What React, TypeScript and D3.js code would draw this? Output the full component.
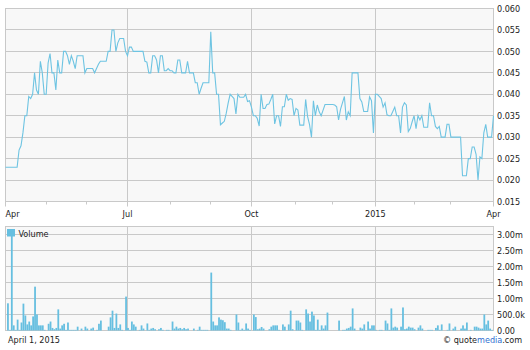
import React from "react";
import * as d3 from "d3";

// Market holidays (no trading) between Apr 1 2014 and Apr 1 2015
const holidays = [
  "2014-04-18", "2014-05-26", "2014-07-04", "2014-09-01", "2014-11-27",
  "2014-12-25", "2015-01-01", "2015-01-19", "2015-02-16",
];

// Daily closing price, one per trading day
const prices = [
  0.023, 0.023, 0.023, 0.023, 0.023, 0.023, 0.023, 0.027, 0.028, 0.031,
  0.035, 0.035, 0.0395, 0.039, 0.040, 0.045, 0.041, 0.040, 0.0477, 0.045,
  0.040, 0.040, 0.0473, 0.0495, 0.045, 0.045, 0.041, 0.048, 0.045, 0.045,
  0.050, 0.050, 0.049, 0.047, 0.049, 0.0477, 0.046, 0.049, 0.049, 0.049,
  0.049, 0.045, 0.046, 0.046, 0.046, 0.046, 0.045, 0.046, 0.047, 0.0477,
  0.0477, 0.0477, 0.0477, 0.050, 0.050, 0.055, 0.055, 0.050, 0.052, 0.053,
  0.053, 0.053, 0.050, 0.049, 0.051, 0.051, 0.050, 0.050, 0.050, 0.050,
  0.050, 0.050, 0.0477, 0.0475, 0.045, 0.045, 0.049, 0.049, 0.048, 0.045,
  0.049, 0.049, 0.0455, 0.0455, 0.046, 0.0455, 0.0455, 0.045, 0.045, 0.048,
  0.048, 0.045, 0.045, 0.045, 0.0477, 0.045, 0.045, 0.045, 0.0427, 0.0427,
  0.040, 0.0414, 0.0427, 0.0427, 0.0427, 0.0427, 0.0546, 0.045, 0.045, 0.040,
  0.040, 0.0329, 0.0333, 0.0337, 0.0356, 0.038, 0.040, 0.0395, 0.039, 0.0354,
  0.040, 0.0393, 0.0393, 0.0393, 0.040, 0.0383, 0.0385, 0.037, 0.035, 0.035,
  0.0344, 0.0326, 0.040, 0.0367, 0.0367, 0.0376, 0.0377, 0.0388, 0.040, 0.0331,
  0.035, 0.035, 0.0325, 0.0371, 0.0371, 0.040, 0.0386, 0.039, 0.0388, 0.035,
  0.0367, 0.0363, 0.0328, 0.0328, 0.0328, 0.0388, 0.0348, 0.0329, 0.030, 0.0385,
  0.035, 0.0375, 0.0359, 0.035, 0.0363, 0.0376, 0.0376, 0.0376, 0.0376, 0.0376,
  0.0375, 0.0371, 0.034, 0.0365, 0.038, 0.0395, 0.034, 0.0359, 0.035, 0.045,
  0.045, 0.045, 0.045, 0.039, 0.0382, 0.036, 0.036, 0.036, 0.0394, 0.0385,
  0.031, 0.040, 0.040, 0.0395, 0.039, 0.037, 0.038, 0.0352, 0.035, 0.035,
  0.036, 0.037, 0.035, 0.035, 0.031, 0.037, 0.038, 0.0375, 0.0313, 0.032,
  0.0336, 0.035, 0.032, 0.035, 0.034, 0.035, 0.0323, 0.0323, 0.0323, 0.038,
  0.035, 0.035, 0.0325, 0.032, 0.0325, 0.030, 0.030, 0.030, 0.033, 0.033,
  0.030, 0.030, 0.030, 0.030, 0.030, 0.030, 0.021, 0.021, 0.021, 0.025,
  0.025, 0.0277, 0.0277, 0.026, 0.020, 0.0254, 0.025, 0.031, 0.033, 0.030,
  0.030, 0.030, 0.035,
];

// Daily volume, millions of shares
const volumesM = [
  0, 0.85, 0.02, 2.97, 0.16, 0.02, 0.34, 0.02, 0.25, 0.84,
  0.47, 0.19, 0.28, 0.16, 0.44, 1.37, 0.5, 0.16, 0.16, 0.16,
  0.02, 0, 0.21, 0.28, 0.08, 0.04, 0.08, 0.66, 0.06, 0.16,
  0.21, 0.02, 0.25, 0.02, 0.02, 0.02, 0.02, 0.12, 0, 0.06,
  0, 0.12, 0.06, 0, 0.06, 0.09, 0, 0.02, 0.21, 0.31,
  0, 0, 0, 0.12, 0.41, 0.62, 0.08, 0.53, 0.08, 0.19,
  0.02, 0, 1.06, 0.08, 0.02, 0.28, 0.19, 0.12, 0, 0.02,
  0.16, 0.06, 0, 0.22, 0.02, 0.06, 0.08, 0.04, 0, 0.04,
  0.08, 0.02, 0, 0.02, 0.02, 0, 0.28, 0.06, 0.12, 0.06,
  0.08, 0.04, 0.08, 0.04, 0.06, 0, 0, 0.06, 0, 0.02,
  0.12, 0.02, 0.02, 0.02, 0.02, 0, 1.81, 0.28, 0.16, 0.16,
  0.41, 0.34, 0.32, 0.26, 0.06, 0.06, 0.02, 0, 0, 0.5,
  0.25, 0.02, 0.06, 0.02, 0.22, 0.06, 0.02, 0, 0.5, 0.42,
  0.04, 0.06, 0.11, 0.06, 0, 0, 0.04, 0.12, 0.16, 0.16,
  0.16, 0.02, 0, 0.19, 0.12, 0, 0.19, 0.62, 0.04, 0,
  0.31, 0.31, 0.25, 0.02, 0, 0.66, 0.53, 0.28, 0.59, 0.47,
  0.02, 0.34, 0.02, 0.16, 0.06, 0.16, 0.56, 0, 0, 0,
  0, 0, 0.31, 0, 0.02, 0.02, 0.06, 0.08, 0.12, 0.69,
  0.06, 0, 0, 0.09, 0.06, 0.19, 0, 0.28, 0.06, 0.16,
  0.16, 0.02, 0, 0.02, 0.02, 0, 0.31, 0.22, 0.02, 0.69,
  0.09, 0.12, 0.09, 0, 0.12, 0.72, 0.04, 0.06, 0.12, 0.09,
  0.09, 0.04, 0, 0.09, 0.16, 0.06, 0, 0, 0.02, 0.02,
  0.02, 0, 0.08, 0.16, 0.02, 0.19, 0, 0, 0.02, 0.22,
  0, 0.06, 0.12, 0, 0, 0.06, 0.16, 0.06, 0.25, 0,
  0.02, 0, 0.12, 0.12, 0.09, 0.06, 0.06, 0.5, 0.19, 0.31,
  0.06, 0.02, 0,
];

const priceTicks = [0.015, 0.02, 0.025, 0.03, 0.035, 0.04, 0.045, 0.05, 0.055, 0.06];
const volumeTicks = [0, 0.5, 1, 1.5, 2, 2.5, 3];
const volumeTickLabels = ["0.00", "500.0k", "1.00m", "1.50m", "2.00m", "2.50m", "3.00m"];
const quarterLabels = ["Apr", "Jul", "Oct", "2015", "Apr"];
const dateLabel = "April 1, 2015";

const FONT = "'DejaVu Sans Condensed', 'DejaVu Sans', sans-serif";
const GRID = "#c9c9c9";
const PLOT_BG = "#f8f8f8";
const LINE = "#6ec4e2";
const BAR = "#66bfe0";
const TEXT = "#222";

export default function App() {
  const fmt = d3.timeFormat("%Y-%m-%d");
  const days = d3
    .timeDay.range(new Date(2014, 3, 1), new Date(2015, 3, 2))
    .filter((d) => d.getDay() !== 0 && d.getDay() !== 6 && !holidays.includes(fmt(d)));
  const n = Math.min(days.length, prices.length);

  const L = 5.5, R = 493.5;
  const x = d3.scaleLinear().domain([0, n - 1]).range([L, R]);
  const yP = d3.scaleLinear().domain([0.015, 0.06]).range([201.5, 8.5]);
  const yV = d3.scaleLinear().domain([0, 3]).range([330.5, 234.5]);
  const pTop = 8.5, pBot = 201.5, vTop = 226.5, vBot = 330.5;

  // month starts
  const monthStarts: { i: number; major: boolean }[] = [];
  days.slice(0, n).forEach((d, i) => {
    if (i === 0 || d.getMonth() !== days[i - 1].getMonth()) {
      monthStarts.push({ i, major: d.getMonth() % 3 === 0 });
    }
  });
  const majors = monthStarts.filter((m) => m.major);
  const inner = majors.filter((m) => m.i !== 0 && m.i !== n - 1);

  const line = d3
    .line<number>()
    .x((_, i) => x(i))
    .y((v) => yP(v));

  const crisp = (v: number) => Math.round(v - 0.5) + 0.5;
  const step = x(1) - x(0);
  const bw = step * 0.92;

  return (
    <svg
      width={530}
      height={350}
      style={{ position: "absolute", left: 0, top: 0, background: "#fff" }}
      fontFamily={FONT}
    >
      {/* price panel */}
      <rect x={L} y={pTop} width={R - L} height={pBot - pTop} fill={PLOT_BG} />
      {priceTicks.map((t) => (
        <line key={"pg" + t} x1={L} x2={R} y1={crisp(yP(t))} y2={crisp(yP(t))} stroke={GRID} />
      ))}
      {inner.map((m) => (
        <line key={"pv" + m.i} x1={crisp(x(m.i))} x2={crisp(x(m.i))} y1={pTop} y2={pBot} stroke={GRID} />
      ))}
      <rect x={L} y={pTop} width={R - L} height={pBot - pTop} fill="none" stroke={GRID} />
      {monthStarts.map((m) => (
        <line
          key={"tk" + m.i}
          x1={crisp(x(m.i))}
          x2={crisp(x(m.i))}
          y1={pBot}
          y2={pBot + (m.major ? 5 : 3)}
          stroke={GRID}
        />
      ))}
      <path d={line(prices.slice(0, n)) || ""} fill="none" stroke={LINE} strokeWidth={1.1} />
      {priceTicks.map((t) => (
        <text key={"pl" + t} x={497} y={yP(t)} dy="0.35em" fontSize={9} fill={TEXT}>
          {d3.format(".3f")(t)}
        </text>
      ))}
      {majors.map((m, k) => (
        <text
          key={"xl" + m.i}
          x={m.i === 0 ? L : x(m.i)}
          y={217}
          fontSize={9}
          fill={TEXT}
          textAnchor={m.i === 0 ? "start" : "middle"}
        >
          {quarterLabels[k]}
        </text>
      ))}

      {/* volume panel */}
      <rect x={L} y={vTop} width={R - L} height={vBot - vTop} fill={PLOT_BG} />
      {volumeTicks.map((t) => (
        <line key={"vg" + t} x1={L} x2={R} y1={crisp(yV(t))} y2={crisp(yV(t))} stroke={GRID} />
      ))}
      {inner.map((m) => (
        <line key={"vv" + m.i} x1={crisp(x(m.i))} x2={crisp(x(m.i))} y1={vTop} y2={vBot} stroke={GRID} />
      ))}
      <rect x={L} y={vTop} width={R - L} height={vBot - vTop} fill="none" stroke={GRID} />
      {volumesM.slice(0, n).map((v, i) =>
        v > 0 ? (
          <rect
            key={"b" + i}
            x={x(i) - bw / 2 + 0.5}
            y={yV(v)}
            width={bw}
            height={yV(0) - yV(v)}
            fill={BAR}
          />
        ) : null
      )}
      {volumeTicks.map((t, k) => (
        <text key={"vl" + t} x={497} y={yV(t)} dy="0.35em" fontSize={9} fill={TEXT}>
          {volumeTickLabels[k]}
        </text>
      ))}
      <rect x={7} y={229} width={8} height={7.5} fill={BAR} />
      <text x={18.5} y={236.5} fontSize={9} fill={TEXT}>
        Volume
      </text>

      {/* footer */}
      <text x={8} y={343} fontSize={9} fill={TEXT}>
        {dateLabel}
      </text>
      <text x={443} y={343} fontSize={9} fill={TEXT}>
        {"\u00a9 quote"}
        <tspan fill="#2f6fd0">media</tspan>
        {".com"}
      </text>
    </svg>
  );
}
